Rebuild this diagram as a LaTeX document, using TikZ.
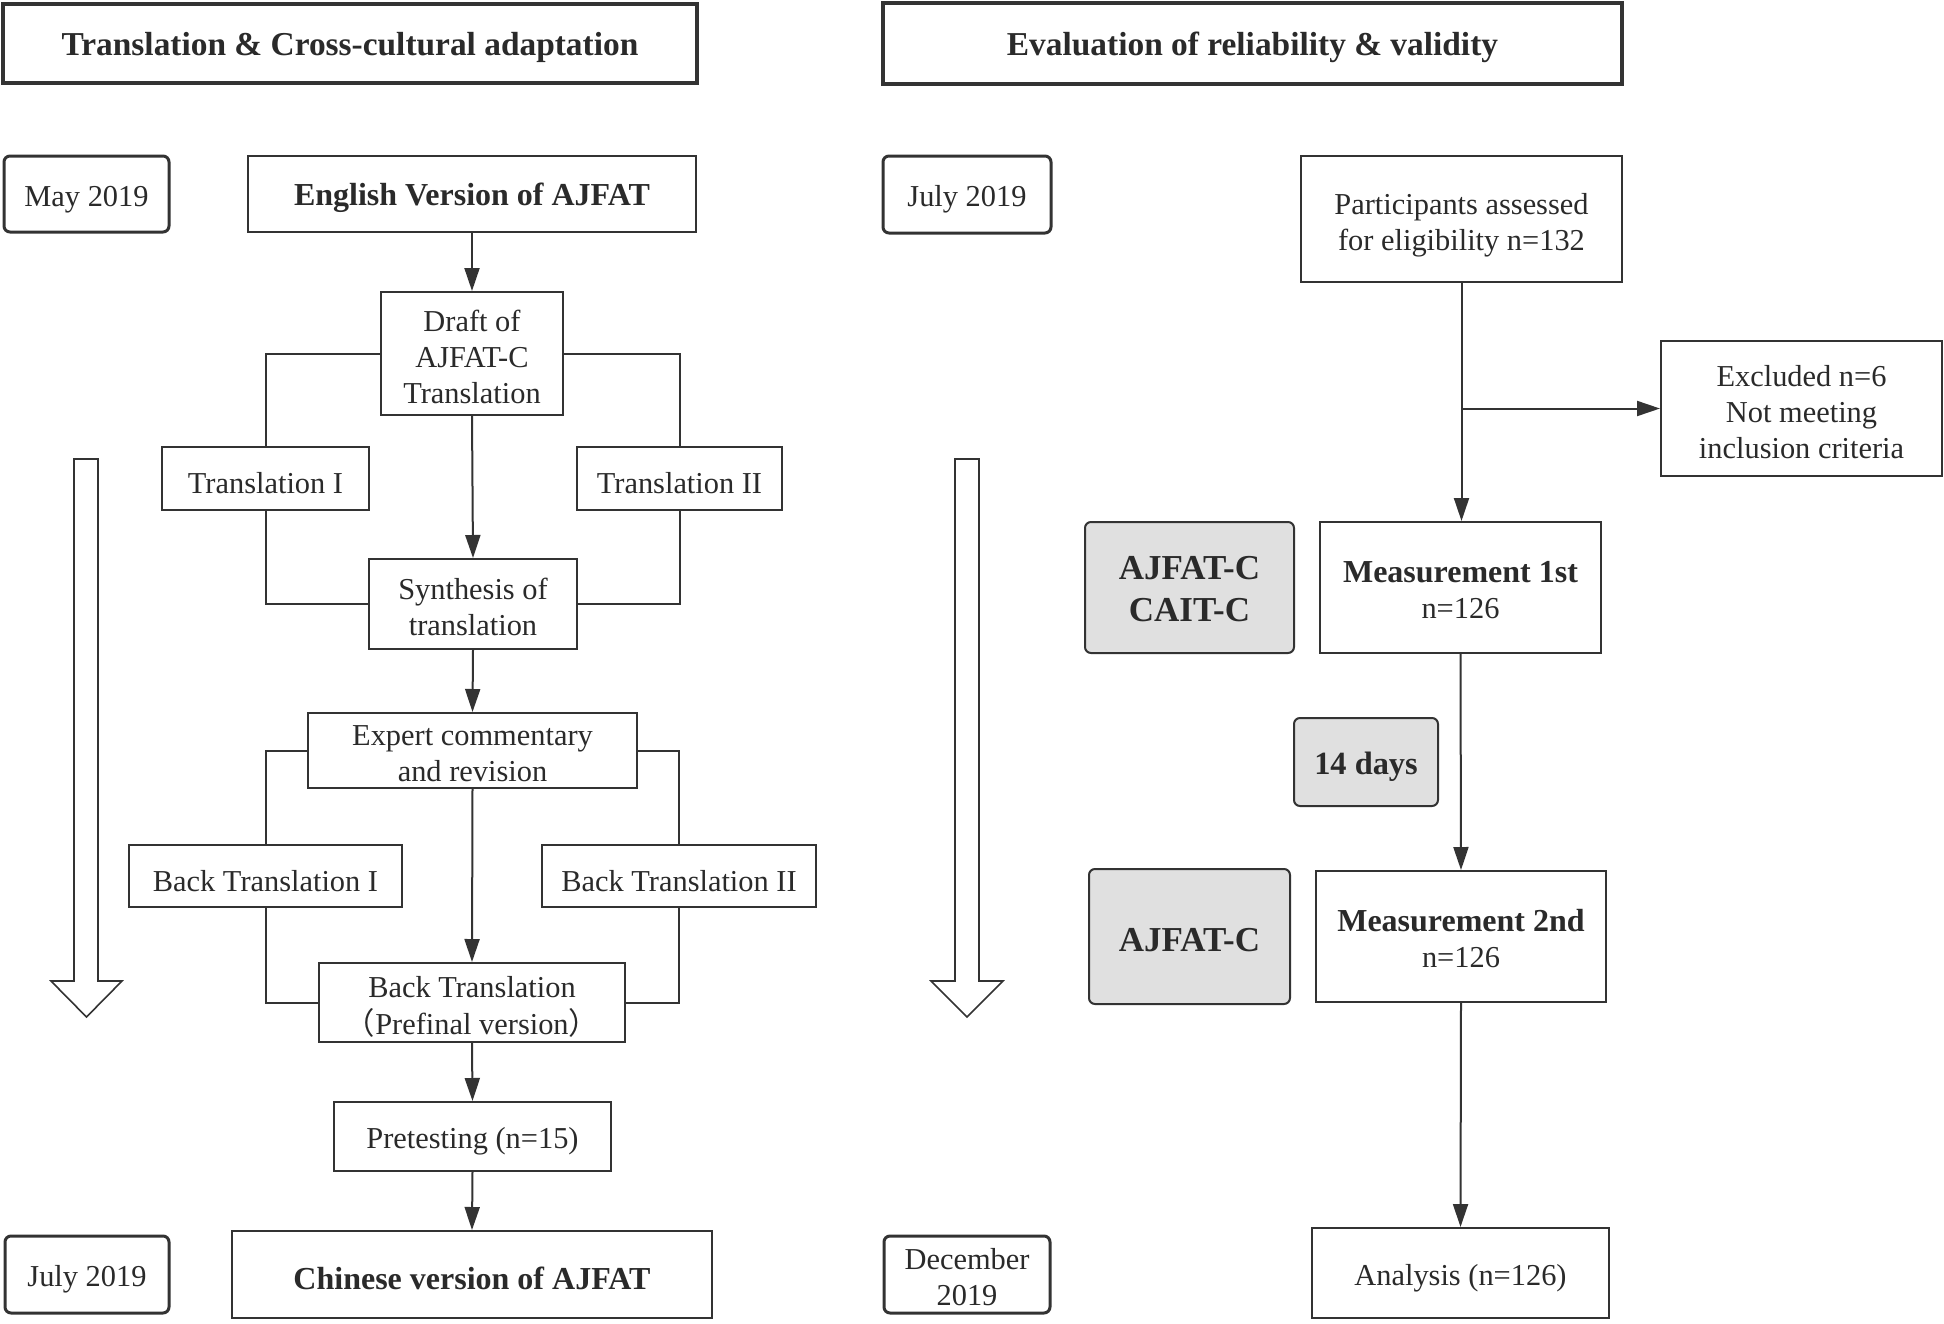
\documentclass[tikz,border=0pt]{standalone}
\usepackage{fontspec}
\setmainfont{Liberation Serif}
\newfontfamily\cjk{Noto Sans CJK SC}
\usetikzlibrary{arrows.meta}
\definecolor{ln}{HTML}{333333}
\definecolor{txt}{HTML}{2A2A2A}
\definecolor{gb}{HTML}{E0E0E0}
\newcommand\mlt[2][10.2pt]{\raisebox{#1}[0pt][0pt]{\begin{tabular}[t]{@{}c@{}}#2\end{tabular}}}
\begin{document}
\begin{tikzpicture}[x=0.5pt,y=-0.5pt,
  bb/.style n args={4}{at={({(#1+#3)/2},{(#2+#4)/2})}, minimum width={(#3-#1)*0.5pt}, minimum height={(#4-#2)*0.5pt}},
  box/.style={draw=ln, line width=1pt, fill=white, inner sep=0pt, align=center, text=txt,
    font=\fontsize{15.2}{18}\selectfont, execute at begin node={\rule{0pt}{15.5pt}}},
  ml/.style={},
  titlebox/.style={box, line width=1.8pt, font=\fontsize{16.7}{19}\selectfont\bfseries},
  bigb/.style={font=\fontsize{16}{18}\selectfont},
  datebox/.style={box, line width=1.5pt, rounded corners=3pt},
  graybox/.style={box, fill=gb, rounded corners=3pt, font=\fontsize{17.5}{21}\selectfont\bfseries},
  conn/.style={draw=ln, line width=1pt},
  arr/.style={conn, -{Triangle[length=11.5pt,width=7.5pt]}},
  hollow/.style={draw=ln, line width=0.8pt, fill=white}
]
\useasboundingbox[fill=white] (0,0) rectangle (1944,1323);

% titles
\node[titlebox, bb={3}{4}{697}{83}] (t1) {Translation \& Cross-cultural adaptation};
\node[titlebox, bb={883}{3}{1622}{84}] (t2) {Evaluation of reliability \& validity};

% left column
\node[datebox, bb={4}{156}{169}{232}] (d1) {May 2019};
\node[box, bigb, bb={248}{156}{696}{232}] (eng) {\textbf{English Version of AJFAT}};
\node[box, ml, bb={381}{292}{563}{415}] (draft) {\mlt[18.9pt]{Draft of\\AJFAT-C\\Translation}};
\node[box, bb={162}{447}{369}{510}] (tr1) {Translation I};
\node[box, bb={577}{447}{782}{510}] (tr2) {Translation II};
\node[box, ml, bb={369}{559}{577}{649}] (syn) {\mlt{Synthesis of\\translation}};
\node[box, ml, bb={308}{713}{637}{788}] (exp) {\mlt{Expert commentary\\and revision}};
\node[box, bb={129}{845}{402}{907}] (bt1) {Back Translation I};
\node[box, bb={542}{845}{816}{907}] (bt2) {Back Translation II};
\node[box, ml, bb={319}{963}{625}{1042}] (pre) {\mlt{Back Translation\\{\cjk （}Prefinal version{\cjk ）}}};
\node[box, bb={334}{1102}{611}{1171}] (pt) {Pretesting (n=15)};
\node[box, bigb, bb={232}{1231}{712}{1318}] (chn) {\textbf{Chinese version of AJFAT}};
\node[datebox, bb={5}{1236}{169}{1313}] (d2) {July 2019};

% right column
\node[datebox, bb={883}{156}{1051}{233}] (d3) {July 2019};
\node[box, ml, bb={1301}{156}{1622}{282}] (part) {\mlt{Participants assessed\\for eligibility n=132}};
\node[box, ml, bb={1661}{341}{1942}{476}] (excl) {\mlt[18.9pt]{Excluded n=6\\Not meeting\\inclusion criteria}};
\node[graybox, ml, bb={1085}{522}{1294}{653}] (g1) {\mlt[11.6pt]{AJFAT-C\\CAIT-C}};
\node[box, ml, bb={1320}{522}{1601}{653}] (m1) {\mlt{{\fontsize{16}{18}\selectfont\bfseries Measurement 1st}\\n=126}};
\node[graybox, bb={1294}{718}{1438}{806}, font=\fontsize{16.2}{19}\selectfont\bfseries] (g14) {14 days};
\node[graybox, bb={1089}{869}{1290}{1004}] (g2) {AJFAT-C};
\node[box, ml, bb={1316}{871}{1606}{1002}] (m2) {\mlt{{\fontsize{16}{18}\selectfont\bfseries Measurement 2nd}\\n=126}};
\node[box, bb={1312}{1228}{1609}{1318}] (ana) {Analysis (n=126)};
\node[datebox, ml, bb={884}{1236}{1050}{1313}] (d4) {\mlt{December\\2019}};

% hollow arrows
\draw[hollow] (74,459) -- (98,459) -- (98,981) -- (122,981) -- (86.5,1017) -- (51,981) -- (74,981) -- cycle;
\draw[hollow] (955,459) -- (979,459) -- (979,981) -- (1003,981) -- (967,1017) -- (931,981) -- (955,981) -- cycle;

% left connectors
\draw[arr] (eng.south) -- (draft.north);
\draw[arr] (draft.south) -- (syn.north);
\draw[conn] (draft.west) -| (tr1.north);
\draw[conn] (draft.east) -| (tr2.north);
\draw[conn] (tr1.south) |- (syn.west);
\draw[conn] (tr2.south) |- (syn.east);
\draw[arr] (syn.south) -- (exp.north);
\draw[arr] (exp.south) -- (pre.north);
\draw[conn] (exp.west) -| (bt1.north);
\draw[conn] (exp.east) -| (bt2.north);
\draw[conn] (bt1.south) |- (pre.west);
\draw[conn] (bt2.south) |- (pre.east);
\draw[arr] (pre.south) -- (pt.north);
\draw[arr] (pt.south) -- (chn.north);

% right connectors
\draw[arr] (part.south) -- (part.south |- m1.north);
\coordinate (br) at (part.south |- excl.west);
\draw[arr] (br) -- (excl.west);
\draw[arr] (m1.south) -- (m2.north);
\draw[arr] (m2.south) -- (ana.north);
\end{tikzpicture}
\end{document}
